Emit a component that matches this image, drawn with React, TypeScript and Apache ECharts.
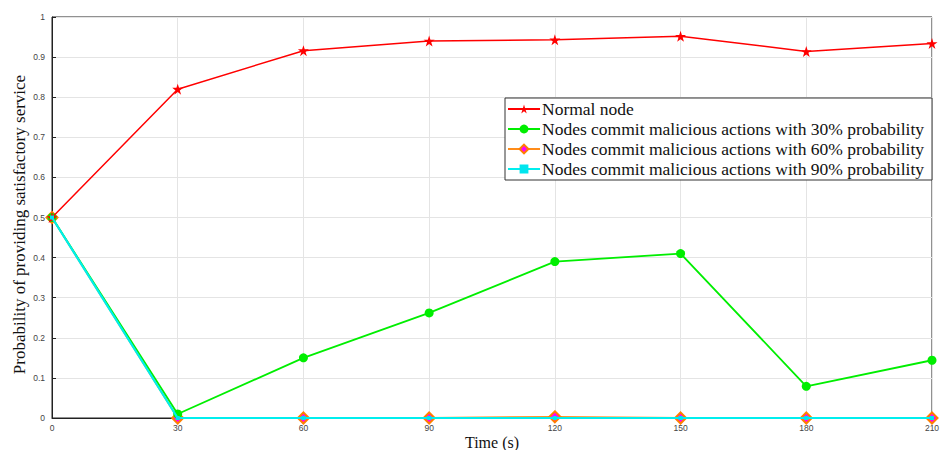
import React, { useEffect, useRef } from "react";
import * as echarts from "echarts";

const categories = [0, 30, 60, 90, 120, 150, 180, 210];
const normalNode = [0.5, 0.82, 0.916, 0.94, 0.943, 0.952, 0.914, 0.934];
const malicious30 = [0.5, 0.01, 0.15, 0.262, 0.39, 0.41, 0.079, 0.144];
const malicious60 = [0.5, 0, 0, 0, 0.003, 0, 0, 0];
const malicious90 = [0.5, 0, 0, 0, 0, 0, 0, 0];

const names = [
  "Normal node",
  "Nodes commit malicious actions with 30% probability",
  "Nodes commit malicious actions with 60% probability",
  "Nodes commit malicious actions with 90% probability",
];

export default function App() {
  const ref = useRef<HTMLDivElement>(null);
  useEffect(() => {
    const chart = echarts.init(ref.current!, null, { renderer: "svg" });
    const pair = (arr: number[]) => categories.map((c, i) => [c, arr[i]]);
    chart.setOption({
      animation: false,
      backgroundColor: "#fff",
      grid: {
        left: 52,
        right: 10,
        top: 17,
        bottom: 32,
        containLabel: false,
        outerBoundsMode: "none",
        show: true,
        borderColor: "#222",
        borderWidth: 1,
      },
      legend: {
        orient: "vertical",
        left: 505,
        top: 98,
        padding: [2, 8, 2, 2],
        itemGap: 2,
        itemWidth: 32,
        itemHeight: 11,
        backgroundColor: "#fff",
        borderColor: "#333",
        borderWidth: 1,
        borderRadius: 0,
        textStyle: { fontFamily: "Liberation Serif", fontSize: 17.5, color: "#111", padding: [0, 0, 0, -3] },
        data: names,
      },
      xAxis: {
        type: "value",
        min: 0,
        max: 210,
        interval: 30,
        name: "Time (s)",
        nameLocation: "middle",
        nameGap: 16,
        nameMoveOverlap: false,
        nameTextStyle: { fontFamily: "Liberation Serif", fontSize: 16, color: "#111" },
        axisLine: { lineStyle: { color: "#222", width: 1 } },
        axisTick: { inside: true, length: 4, lineStyle: { color: "#222" } },
        axisLabel: { fontSize: 8.5, color: "#444", margin: 5, fontFamily: "Liberation Sans" },
        splitLine: { show: true, lineStyle: { color: "#e4e4e4", width: 1 } },
      },
      yAxis: {
        type: "value",
        min: 0,
        max: 1,
        interval: 0.1,
        name: "Probability of providing satisfactory service",
        nameLocation: "middle",
        nameGap: 24,
        nameMoveOverlap: false,
        nameTextStyle: { fontFamily: "Liberation Serif", fontSize: 17, color: "#111", padding: [0, 14, 0, 0] },
        axisLine: { lineStyle: { color: "#222", width: 1 } },
        axisTick: { inside: true, length: 4, lineStyle: { color: "#222" } },
        axisLabel: {
          fontSize: 8.5,
          color: "#444",
          margin: 7,
          fontFamily: "Liberation Sans",
          formatter: (v: number) => (Math.round(v * 10) / 10).toString(),
        },
        splitLine: { show: true, lineStyle: { color: "#e4e4e4", width: 1 } },
      },
      series: [
        {
          name: names[0],
          type: "line",
          data: pair(normalNode),
          symbol: "path://M50,0 L61.8,36.2 L100,36.2 L69.1,58.8 L80.9,95.1 L50,72.6 L19.1,95.1 L30.9,58.8 L0,36.2 L38.2,36.2 Z",
          symbolSize: 11,
          itemStyle: { color: "#ff0000" },
          lineStyle: { color: "#ff0000", width: 1.5 },
          z: 4,
        },
        {
          name: names[1],
          type: "line",
          data: pair(malicious30),
          symbol: "circle",
          symbolSize: 9,
          itemStyle: { color: "#00ee00" },
          lineStyle: { color: "#00ee00", width: 1.8 },
          z: 3,
        },
        {
          name: names[2],
          type: "line",
          data: pair(malicious60),
          symbol: "diamond",
          symbolSize: 11,
          itemStyle: { color: "#ff00ff", borderColor: "#ff7f00", borderWidth: 2 },
          lineStyle: { color: "#ff8c1a", width: 1.8 },
          z: 2,
        },
        {
          name: names[3],
          type: "line",
          data: pair(malicious90),
          symbol: "rect",
          symbolSize: 4,
          itemStyle: { color: "#00e5ee" },
          lineStyle: { color: "#00eeee", width: 2.2 },
          z: 5,
        },
      ],
    });
    return () => chart.dispose();
  }, []);
  return (
    <div
      ref={ref}
      style={{ position: "fixed", left: 0, top: 0, width: 942, height: 450 }}
    />
  );
}
